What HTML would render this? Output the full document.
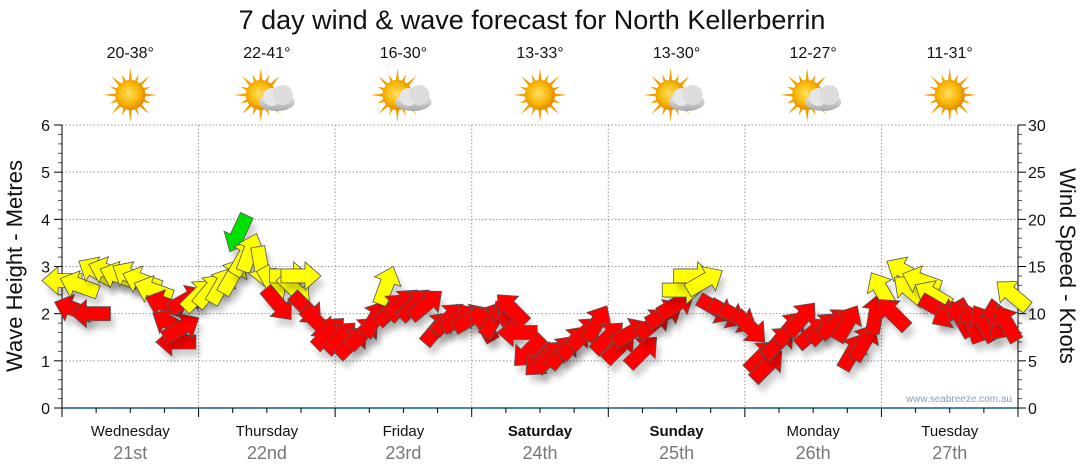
<!DOCTYPE html>
<html><head><meta charset="utf-8"><style>
body{margin:0;background:#fff;}
svg{display:block;font-family:"Liberation Sans",sans-serif;}
</style></head><body>
<svg id="c" width="1080" height="475">
<defs>
<filter id="sh" x="-50%" y="-50%" width="200%" height="200%"><feGaussianBlur stdDeviation="3"/></filter>
<radialGradient id="sun" cx="0.45" cy="0.45" r="0.6"><stop offset="0" stop-color="#ffe066"/><stop offset="0.6" stop-color="#f7b500"/><stop offset="1" stop-color="#e07b00"/></radialGradient>
<linearGradient id="cl" x1="0" y1="0" x2="0" y2="1"><stop offset="0" stop-color="#f2f2f2"/><stop offset="1" stop-color="#a9a9a9"/></linearGradient>
</defs>
<text x="532" y="29" text-anchor="middle" font-size="27" fill="#111">7 day wind &amp; wave forecast for North Kellerberrin</text>
<g id="grid"></g><g id="axes"></g><g id="icons"></g><g id="arrows"></g>
<text x="1012" y="402" text-anchor="end" font-size="10" fill="#8aa0b8">www.seabreeze.com.au</text>
<text transform="translate(22,266) rotate(-90)" text-anchor="middle" font-size="22" fill="#111">Wave Height - Metres</text>
<text transform="translate(1060,266) rotate(90)" text-anchor="middle" font-size="22" fill="#111">Wind Speed - Knots</text>
</svg>
<script>
const days=["Wednesday","Thursday","Friday","Saturday","Sunday","Monday","Tuesday"];
const dates=["21st","22nd","23rd","24th","25th","26th","27th"];
const temps=["20-38°","22-41°","16-30°","13-33°","13-30°","12-27°","11-31°"];
const cloudy=[false,true,true,false,true,true,false];
const waveTicks=[0,1,2,3,4,5,6];
const windTicks=[0,5,10,15,20,25,30];
const hours=[0,2,3,5,6,8,10,12,14,16,18,19,20,21,22,24,26,28,30,31,32,33,35,37,38,40,41,42,43,45,47,49,51,53,55,57,58,60,62,64,66,68,70,72,74,76,78,79,80,82,84,86,88,90,92,94,96,98,100,102,104,106,108,109,111,113,115,117,119,121,123,124,126,128,130,132,134,136,138,139,141,143,144,146,148,149,151,153,154,156,158,160,162,164,166,167];
const speeds=[13.5,10.5,13,10,14.5,14.5,14,14,13.5,12.5,11,9,7,8.5,11.5,12,12.5,13,14,18.5,16,16.5,15,13,11,14,12.5,14,10.5,9,8,7.5,7,8,9.5,13,10.5,11,11,11,8.5,9.5,9.5,9.5,9,9.5,9.5,10.5,8,6,5,5.5,6,7,8,9,7.5,6.5,8,6,9,10,11,12.5,14,13.5,10.5,10,9.5,8.5,5.5,4.5,7,8.5,9.5,8,8.5,9,9,6,7,10,12.5,10,14.5,12.5,13.5,12,10.5,10,9.5,9,9,9.5,9,12];
const angles=[180,200,200,180,210,200,200,210,200,200,200,210,180,330,330,315,310,300,300,115,300,290,80,60,50,0,45,0,45,45,315,315,315,315,300,290,315,315,315,320,310,315,330,330,240,300,240,225,180,135,135,315,310,310,315,300,315,315,330,315,320,330,330,0,0,330,30,30,30,45,315,315,315,310,310,320,315,320,300,300,300,280,240,225,210,220,200,210,30,150,240,250,240,260,240,220];
const NS="http://www.w3.org/2000/svg";
const X0=62,X1=1018,Y0=408,Y1=125,DAYW=(X1-X0)/7;
const xH=h=>X0+h*DAYW/24;
const yM=m=>Y0-m*(Y0-Y1)/6;
const yK=k=>Y0-k*(Y0-Y1)/30;
function mk(p,t,a){const e=document.createElementNS(NS,t);for(const k in a)e.setAttribute(k,a[k]);p.appendChild(e);return e;}
const grid=document.getElementById('grid'),axes=document.getElementById('axes'),icons=document.getElementById('icons'),arrows=document.getElementById('arrows');
waveTicks.forEach(m=>{const y=yM(m);
 if(m>0){const g=mk(grid,'line',{x1:X0,x2:X1,y1:y,y2:y,stroke:'#999','stroke-dasharray':'1.5,2','stroke-width':1});
 }
 mk(axes,'line',{x1:X0-8,x2:X0,y1:y,y2:y,stroke:'#000'});
 const t=mk(axes,'text',{x:X0-12,y:y+6,'text-anchor':'end','font-size':16,fill:'#111'});t.textContent=m;
 
 if(m<6)for(let i=1;i<5;i++){const yy=yM(m+i*0.2);mk(axes,'line',{x1:X0-4,x2:X0,y1:yy,y2:yy,stroke:'#555'});}
});
windTicks.forEach(k=>{const y=yK(k);
 mk(axes,'line',{x1:X1,x2:X1+8,y1:y,y2:y,stroke:'#000'});
 const t=mk(axes,'text',{x:X1+10,y:y+6,'font-size':16,fill:'#111'});t.textContent=k;
 
 if(k<30)for(let i=1;i<5;i++){const yy=yK(k+i);mk(axes,'line',{x1:X1,x2:X1+4,y1:yy,y2:yy,stroke:'#555'});}
});
mk(axes,'line',{x1:X0,x2:X0,y1:Y1,y2:Y0,stroke:'#000'});
mk(axes,'line',{x1:X1,x2:X1,y1:Y1,y2:Y0,stroke:'#000'});
mk(axes,'line',{x1:X0,x2:X1,y1:Y0,y2:Y0,stroke:'#1a5a8a','stroke-width':1.5});
for(let d=0;d<=7;d++){const x=X0+d*DAYW;
 if(d>0&&d<7){const g=mk(grid,'line',{x1:x,x2:x,y1:Y1,y2:Y0,stroke:'#999','stroke-dasharray':'1.5,2'});
 }
 mk(axes,'line',{x1:x,x2:x,y1:Y0,y2:Y0+9,stroke:'#000'});
 if(d<7)for(let i=1;i<4;i++){const xx=x+i*DAYW/4;mk(axes,'line',{x1:xx,x2:xx,y1:Y0,y2:Y0+5,stroke:'#000'});}
}
days.forEach((d,i)=>{const cx=X0+(i+0.5)*DAYW;
 const t=mk(axes,'text',{x:cx,y:436,'text-anchor':'middle','font-size':15,fill:'#111','font-weight':(i==3||i==4)?'bold':'normal'});t.textContent=d;
 
 const t2=mk(axes,'text',{x:cx,y:459,'text-anchor':'middle','font-size':18,fill:'#777'});t2.textContent=dates[i];
 
 const t3=mk(icons,'text',{x:cx,y:58,'text-anchor':'middle','font-size':16,fill:'#111'});t3.textContent=temps[i];
 
 const g=mk(icons,'g',{});
 
 const sx=cloudy[i]?cx-6:cx,sy=95;
 for(let r=0;r<16;r++){const a=r*Math.PI/8,L=r%2?22:27;
  mk(g,'polygon',{points:`${sx+Math.cos(a-0.12)*14},${sy+Math.sin(a-0.12)*14} ${sx+Math.cos(a)*L},${sy+Math.sin(a)*L} ${sx+Math.cos(a+0.12)*14},${sy+Math.sin(a+0.12)*14}`,fill:'#f0a000'});}
 mk(g,'circle',{cx:sx,cy:sy,r:15,fill:'url(#sun)'});
 if(cloudy[i]){mk(g,'ellipse',{cx:cx+10,cy:102,rx:18,ry:9,fill:'url(#cl)'});
  mk(g,'circle',{cx:cx+5,cy:97,r:9,fill:'#e6e6e6'});mk(g,'circle',{cx:cx+16,cy:95,r:10,fill:'#ddd'});}
});
const shape="-20,-7 4,-7 4,-14 20,0 4,14 4,7 -20,7";
hours.forEach((h,i)=>{const x=xH(h),y=yK(speeds[i]),a=angles[i];
 const s=speeds[i];const col=s>=17?'#00e000':(s>=12?'#ffff00':'#ff0000');
 mk(arrows,'polygon',{points:shape,fill:'#000',opacity:0.18,filter:'url(#sh)',transform:`translate(${x+4},${y+8}) rotate(${a})`});
 const p=mk(arrows,'polygon',{points:shape,fill:col,stroke:'#555','stroke-width':0.8,transform:`translate(${x},${y}) rotate(${a})`});
 
 
});
</script>
</body></html>
